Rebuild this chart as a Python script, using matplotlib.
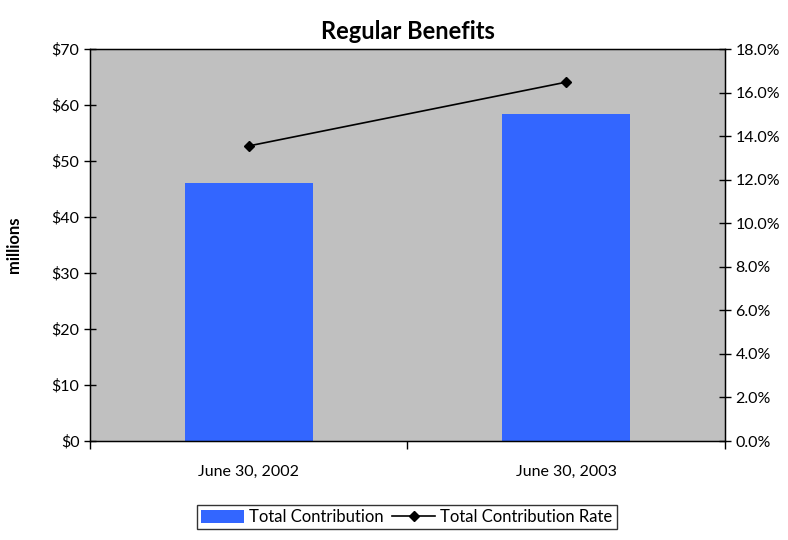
import numpy as np
import matplotlib.pyplot as plt
from matplotlib.ticker import FuncFormatter

plt.rcParams['font.family'] = ['Lato', 'DejaVu Sans']

# Data
periods = ['June 30, 2002', 'June 30, 2003']
contribution = [46.1, 58.4]        # $ millions
contribution_rate = [13.55, 16.48]  # percent of payroll

fig = plt.figure(figsize=(7.88, 5.4), dpi=100)
ax = fig.add_axes([0.1142, 0.1833, 0.8058, 0.7259])
ax.set_facecolor('#C0C0C0')

x = np.arange(len(periods))
bars = ax.bar(x, contribution, width=0.403, color='#3366FF', label='Total Contribution', zorder=2)

ax.set_xlim(-0.5, len(periods) - 0.5)
ax.set_ylim(0, 70)
ax.set_yticks(np.arange(0, 71, 10))
ax.yaxis.set_major_formatter(FuncFormatter(lambda v, p: f'${v:.0f}'))
ax.set_xticks(x)
ax.set_xticklabels(periods, fontsize=11.5)
ax.set_xticks([-0.5, 0.5, 1.5], minor=True)
ax.tick_params(axis='x', which='major', length=0, pad=17)
ax.tick_params(axis='x', which='minor', length=6, direction='out', width=1)
ax.tick_params(axis='y', direction='inout', length=8, labelsize=11.5, width=1)
ax.set_ylabel('millions', fontsize=12, fontweight='bold', labelpad=21)
for s in ax.spines.values():
    s.set_color('black')
    s.set_linewidth(1)

ax2 = ax.twinx()
line, = ax2.plot(x, contribution_rate, color='black', marker='D', markersize=5,
                 linewidth=1.2, label='Total Contribution Rate', zorder=3)
ax2.set_ylim(0, 18)
ax2.set_yticks(np.arange(0, 18.1, 2))
ax2.yaxis.set_major_formatter(FuncFormatter(lambda v, p: f'{v:.1f}%'))
ax2.tick_params(axis='y', direction='inout', length=8, labelsize=11.5, width=1)

ax.set_title('Regular Benefits', fontsize=17, fontweight='bold', pad=7)

leg = fig.legend([bars, line], ['Total Contribution', 'Total Contribution Rate'],
                 loc='center', bbox_to_anchor=(0.516, 0.0426), ncol=2, fontsize=12,
                 frameon=True, fancybox=False, edgecolor='black', handlelength=2.6,
                 handleheight=0.8, borderpad=0.25, columnspacing=0.5, handletextpad=0.3)
leg.get_frame().set_linewidth(1)

fig.savefig('out.png', dpi=100)
